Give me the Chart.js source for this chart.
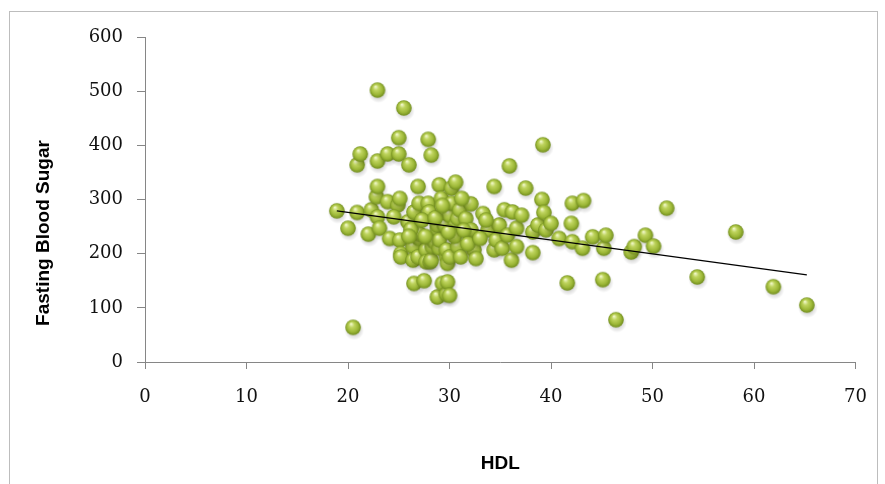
<!DOCTYPE html>
<html>
<head>
<meta charset="utf-8">
<script src="https://cdn.jsdelivr.net/npm/chart.js@4"></script>
<style>
  body { margin: 0; background: #fff; }
  #wrap { position: relative; width: 885px; height: 484px; overflow: hidden; }
  #frame { position: absolute; left: 9px; top: 11px; width: 867px; height: 500px; border: 1px solid #bdbdbd; }
  canvas { position: absolute; left: 0; top: 0; }
</style>
</head>
<body>
<div id="wrap">
  <div id="frame"></div>
  <canvas id="hdlChart" width="885" height="484"></canvas>
</div>
<script>
// HDL (x) and fasting blood sugar (y)
const hdl = [
    18.9, 20.0, 20.5, 20.9, 20.9, 21.2, 22.0, 22.3, 22.8, 22.9,
    22.9, 22.9, 22.9, 23.1, 23.9, 23.9, 24.1, 24.9, 25.0, 25.0,
    25.1, 25.1, 25.2, 25.2, 25.5, 25.9, 26.0, 26.4, 26.4, 26.5,
    26.5, 26.9, 26.9, 27.0, 27.0, 27.0, 27.5, 27.7, 27.7, 27.9,
    27.9, 28.0, 28.1, 28.2, 28.2, 28.3, 28.5, 28.8, 28.8, 28.8,
    29.0, 29.0, 29.0, 29.2, 29.3, 29.5, 29.5, 29.7, 29.7, 29.7,
    29.8, 29.8, 30.0, 30.0, 30.0, 30.2, 30.2, 30.6, 30.6, 30.8,
    30.8, 31.0, 31.1, 31.6, 32.0, 32.1, 32.1, 32.4, 32.6, 33.3,
    33.8, 34.4, 34.4, 34.6, 34.9, 35.2, 35.4, 35.7, 35.9, 36.1,
    36.2, 36.6, 36.6, 37.1, 37.5, 38.2, 38.2, 38.7, 39.1, 39.2,
    39.3, 39.5, 40.0, 40.8, 41.6, 42.0, 42.1, 42.1, 43.1, 43.2,
    44.1, 45.1, 45.2, 45.4, 46.4, 47.9, 48.2, 49.3, 50.1, 51.4,
    54.4, 58.2, 61.9, 65.2,
    26.2, 27.3, 27.6, 28.6, 29.3, 30.5, 31.4, 31.8, 33.0, 26.0,
    24.5, 31.2, 33.6, 29.9
];
const fbs = [
    279, 247, 64, 276, 364, 384, 236, 281, 305, 324,
    371, 502, 268, 247, 296, 384, 228, 290, 414, 384,
    302, 225, 200, 194, 469, 259, 364, 213, 188, 277,
    145, 324, 194, 228, 293, 237, 150, 207, 185, 293,
    411, 277, 185, 382, 188, 213, 222, 244, 253, 120,
    327, 210, 225, 302, 145, 253, 277, 194, 207, 125,
    182, 148, 271, 194, 123, 321, 293, 332, 253, 265,
    213, 281, 194, 265, 237, 292, 244, 207, 191, 274,
    244, 324, 207, 225, 253, 210, 281, 234, 362, 188,
    277, 247, 213, 271, 321, 240, 202, 253, 300, 401,
    276, 244, 256, 228, 146, 256, 293, 222, 210, 298,
    231, 152, 210, 234, 78, 203, 213, 234, 214, 284,
    157, 240, 139, 105,
    245, 262, 232, 266, 289, 232, 243, 218, 228, 232,
    268, 302, 262, 240
];

// linear trendline end points
const trendHdl = [18.9, 65.2];
const trendFbs = [279, 161];

const points = hdl.map((x, i) => ({ x: x, y: fbs[i] }));
const trend = trendHdl.map((x, i) => ({ x: x, y: trendFbs[i] }));

// green glossy ball used as the marker
function makeBall() {
    const c = document.createElement("canvas");
    c.width = 26;
    c.height = 26;
    const g = c.getContext("2d");
    const sh = g.createRadialGradient(14, 16, 1, 14, 16, 10);
    sh.addColorStop(0, "rgba(0,0,0,0.28)");
    sh.addColorStop(1, "rgba(0,0,0,0)");
    g.fillStyle = sh;
    g.beginPath();
    g.arc(14, 16, 10, 0, Math.PI * 2);
    g.fill();

    const grad = g.createRadialGradient(11, 9.5, 0.5, 13, 13, 7.8);
    grad.addColorStop(0, "#eef6c4");
    grad.addColorStop(0.3, "#bfd45e");
    grad.addColorStop(0.7, "#9db838");
    grad.addColorStop(1, "#718d1e");
    g.fillStyle = grad;
    g.beginPath();
    g.arc(13, 13, 7.8, 0, Math.PI * 2);
    g.fill();
    return c;
}

const yTitle = {
    id: "yTitle",
    afterDraw(chart) {
        const ctx = chart.ctx;
        ctx.save();
        ctx.translate(44, 233);
        ctx.rotate(-Math.PI / 2);
        ctx.font = "bold 19px 'Liberation Sans'";
        ctx.fillStyle = "#000";
        ctx.textAlign = "center";
        ctx.textBaseline = "middle";
        ctx.fillText("Fasting Blood Sugar", 0, 0);
        ctx.restore();
    },
};

const tickFont = { family: "'DejaVu Serif'", size: 18 };

new Chart(document.getElementById("hdlChart"), {
    type: "scatter",
    data: {
        datasets: [
            {
                type: "line",
                data: trend,
                borderColor: "#000",
                borderWidth: 1.3,
                pointRadius: 0,
                order: 0,
            },
            {
                data: points,
                pointStyle: makeBall(),
                order: 1,
            },
        ],
    },
    options: {
        responsive: false,
        animation: false,
        layout: {
            padding: { top: 37, right: 28, left: 0, bottom: 0 },
        },
        plugins: {
            legend: { display: false },
            tooltip: { enabled: false },
        },
        scales: {
            x: {
                type: "linear",
                min: 0,
                max: 70,
                ticks: { stepSize: 10, font: tickFont, color: "#111", padding: 18 },
                grid: { drawOnChartArea: false, tickLength: 7, color: "#868686" },
                border: { color: "#868686" },
                title: {
                    display: true,
                    text: "HDL",
                    font: { family: "'Liberation Sans'", size: 19, weight: "bold" },
                    color: "#000",
                    padding: { top: 0, bottom: 9 },
                },
                afterFit: (s) => { s.height = 122; },
            },
            y: {
                min: 0,
                max: 600,
                ticks: { stepSize: 100, font: tickFont, color: "#111", padding: 14 },
                grid: { drawOnChartArea: false, tickLength: 8, color: "#868686" },
                border: { color: "#868686" },
                afterFit: (s) => { s.width = 145; },
            },
        },
    },
    plugins: [yTitle],
});
</script>
</body>
</html>
